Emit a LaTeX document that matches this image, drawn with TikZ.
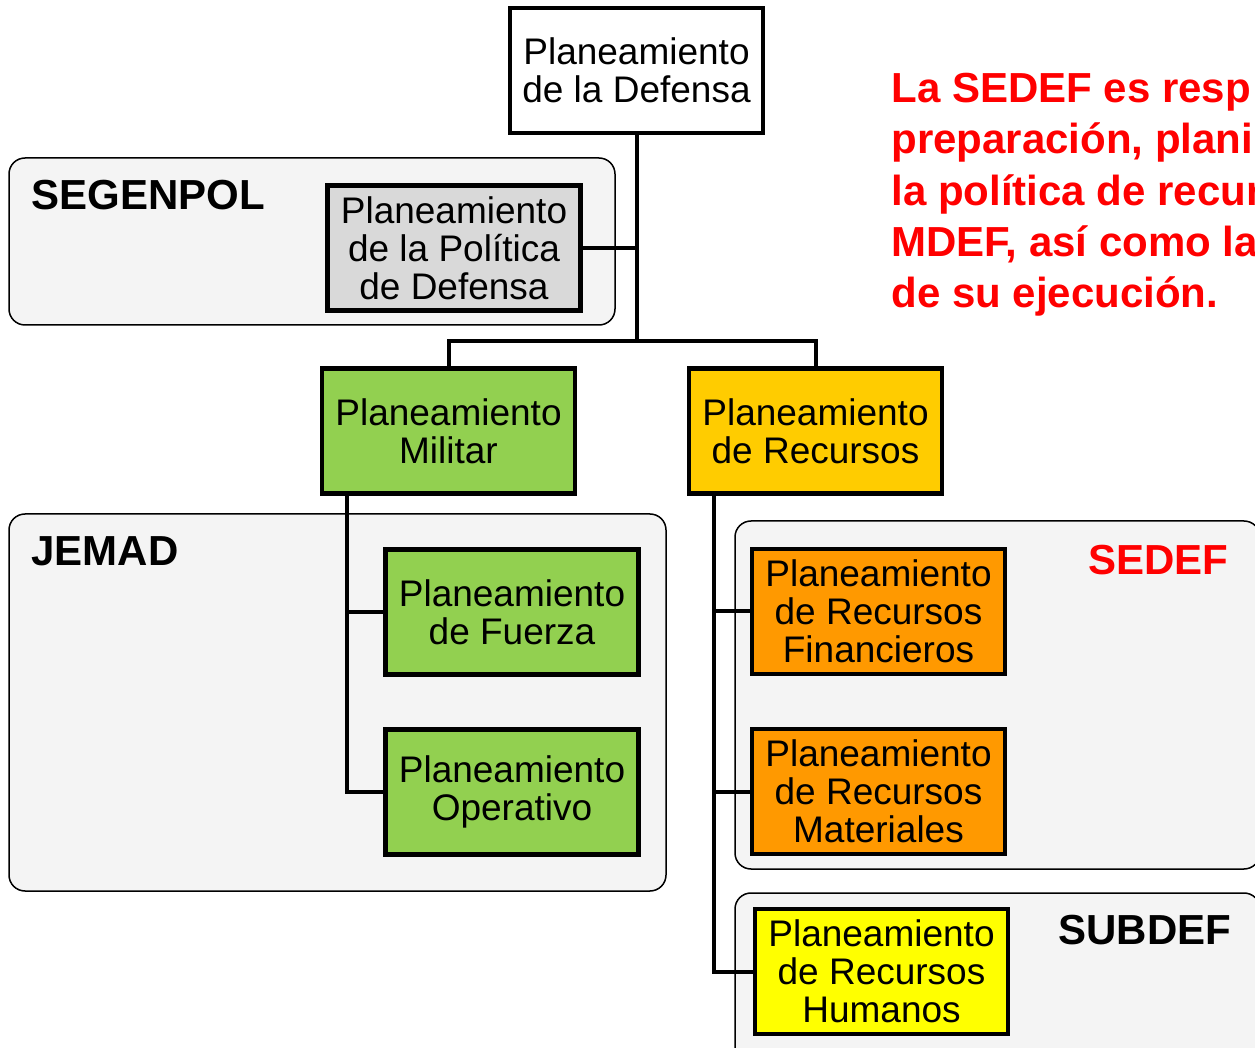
\documentclass[tikz,border=0pt]{standalone}
\usepackage{fontspec}
\setmainfont{Liberation Sans}
\usetikzlibrary{positioning}
\definecolor{pgreen}{HTML}{92D050}
\definecolor{pamber}{HTML}{FFCC00}
\definecolor{porange}{HTML}{FF9900}
\definecolor{pyellow}{HTML}{FFFF00}
\definecolor{pgray}{HTML}{D9D9D9}
\definecolor{grpgray}{HTML}{F4F4F4}
\definecolor{pred}{HTML}{FF0000}
\begin{document}
\begin{tikzpicture}[
  x=0.5pt,y=-0.5pt,
  node distance=27.5pt and 57pt,
  mybox/.style={draw,line width=2.2pt,outer sep=0pt,minimum width=126.5pt,minimum height=62.5pt,inner sep=0pt,align=center,font=\fontsize{18.5}{19}\selectfont},
  mygroup/.style={draw,line width=0.75pt,fill=grpgray,rounded corners=8pt},
  mylabel/.style={anchor=west,inner sep=0pt,font=\fontsize{21}{25.6}\selectfont\bfseries},
  myline/.style={line width=2pt}
]
\useasboundingbox (0,0) rectangle (1255,1048);
\clip (0,0) rectangle (1255,1048);
\draw[mygroup] (9,158) rectangle (615,325);
\draw[mygroup] (9,514) rectangle (666,891);
\draw[mygroup] (735,521) rectangle (1260,869);
\draw[mygroup] (735,893) rectangle (1260,1080);
\node[mybox,fill=white] (PD) at (636.5,70.5) {Planeamiento\\de la Defensa};
\node[mybox,fill=pgray] (PPD) at (454,248) {Planeamiento\\de la Política\\de Defensa};
\node[mybox,fill=pgreen] (PM) at (448.5,431) {Planeamiento\\Militar};
\node[mybox,fill=pamber,right=of PM] (PR) {Planeamiento\\de Recursos};
\node[mybox,fill=pgreen] (PF) at (512,612) {Planeamiento\\de Fuerza};
\node[mybox,fill=pgreen,below=of PF] (PO) {Planeamiento\\Operativo};
\node[mybox,fill=porange] (PRF) at (878.5,611.5) {Planeamiento\\de Recursos\\Financieros};
\node[mybox,fill=porange,below=of PRF] (PRM) {Planeamiento\\de Recursos\\Materiales};
\node[mybox,fill=pyellow,below=of PRM,xshift=1.5pt] (PRH) {Planeamiento\\de Recursos\\Humanos};
\node[mylabel] (SEGENPOL) at (31,195.5) {SEGENPOL};
\node[mylabel] (JEMAD) at (31,551.5) {JEMAD};
\node[mylabel,text=pred] (SEDEF) at (1088,560.5) {SEDEF};
\node[mylabel] (SUBDEF) at (1058,930.5) {SUBDEF};
\node[mylabel,anchor=north west,align=left,text=pred] (nota) at (891,73) {La SEDEF es resp\\preparación, plani\\la política de recur\\MDEF, así como la\\de su ejecución.};
\coordinate (J) at (636.5,341);
\coordinate (MT) at ([xshift=12.5pt]PM.south west);
\coordinate (RT) at ([xshift=12.5pt]PR.south west);
\draw[myline] (PD) -- (J);
\draw[myline] (PPD) -- (PPD -| J);
\draw[myline] (PM.north) |- (J) -| (PR.north);
\draw[myline] (MT) |- (PF.west);
\draw[myline] (MT) |- (PO.west);
\draw[myline] (RT) |- (PRF.west);
\draw[myline] (RT) |- (PRM.west);
\draw[myline] (RT) |- (PRH.west);
\end{tikzpicture}
\end{document}
